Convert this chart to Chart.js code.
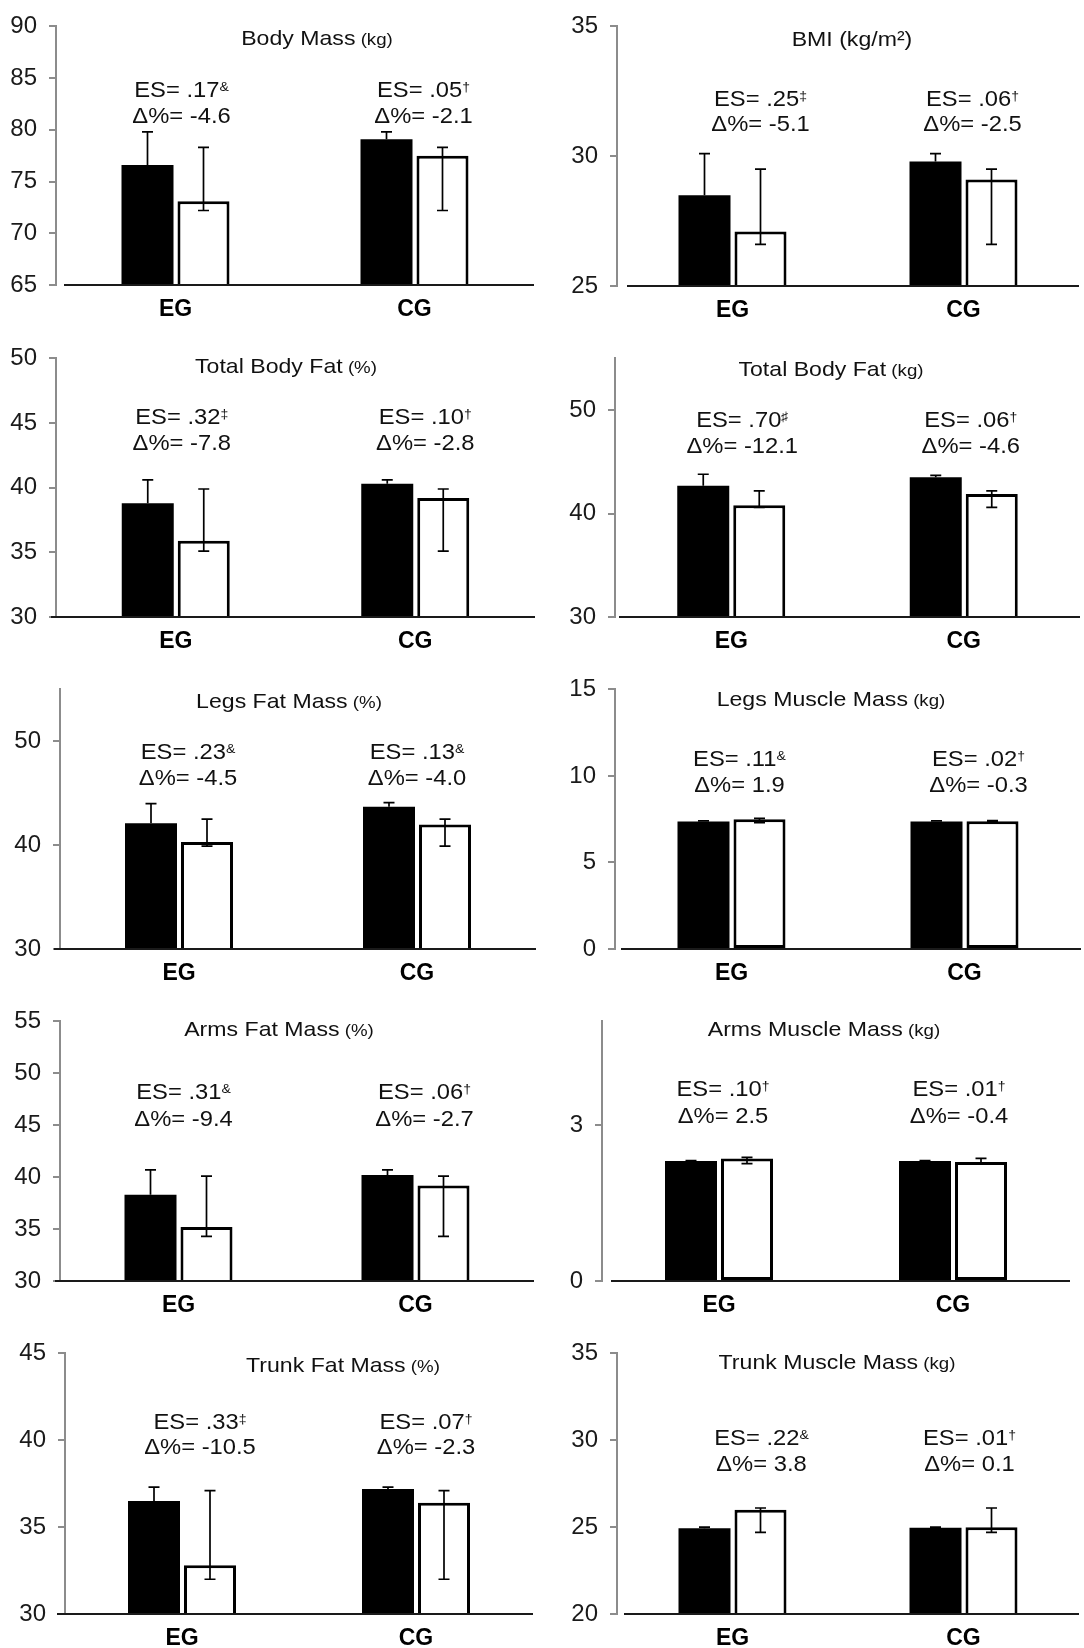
<!DOCTYPE html>
<html>
<head>
<meta charset="utf-8">
<script src="https://cdn.jsdelivr.net/npm/chart.js@4.4.1/dist/chart.umd.min.js"></script>
<style>
  html, body { margin: 0; padding: 0; background: #fff; }
  #page { position: relative; width: 1084px; height: 1648px; overflow: hidden; }
  #page canvas { position: absolute; }
</style>
</head>
<body>
<div id="page"></div>
<script>
// ---- data ----
const groups = ['EG', 'CG'];

const titles = ['Body Mass', 'BMI (kg/m\u00b2)', 'Total Body Fat', 'Total Body Fat', 'Legs Fat Mass',
                'Legs Muscle Mass', 'Arms Fat Mass', 'Arms Muscle Mass', 'Trunk Fat Mass', 'Trunk Muscle Mass'];
const units = [' (kg)', '', ' (%)', ' (kg)', ' (%)', ' (kg)', ' (%)', ' (kg)', ' (%)', ' (kg)'];

// pre (black) and post (white) means, [EG, CG]
const preMeans = [[76.6, 79.1], [28.5, 29.8], [38.8, 40.3], [42.7, 43.5], [42.1, 43.7],
                  [7.36, 7.36], [38.3, 40.2], [2.31, 2.31], [36.5, 37.2], [24.94, 24.96]];
const postMeans = [[73.1, 77.5], [27.1, 29.1], [35.9, 39.2], [40.8, 41.9], [40.3, 42.0],
                   [7.50, 7.38], [35.2, 39.2], [2.36, 2.29], [32.8, 36.4], [26.0, 25.0]];

// error bar ends
const preUpper = [[79.8, 79.8], [30.1, 30.1], [40.6, 40.6], [43.8, 43.7], [44.0, 44.1],
                  [7.40, 7.40], [40.7, 40.7], [2.32, 2.32], [37.3, 37.3], [25.0, 25.0]];
const postUpper = [[78.3, 78.3], [29.5, 29.5], [39.9, 39.9], [42.2, 42.2], [42.5, 42.5],
                   [7.55, 7.42], [40.1, 40.1], [2.38, 2.36], [37.1, 37.1], [26.1, 26.1]];
const postLower = [[72.2, 72.2], [26.6, 26.6], [35.1, 35.1], [40.6, 40.6], [39.9, 39.9],
                   [7.30, 7.34], [34.3, 34.3], [2.26, 2.27], [32.0, 32.0], [24.7, 24.7]];

// effect sizes, their significance marks and percent changes, [EG, CG]
const esValues = [[0.17, 0.05], [0.25, 0.06], [0.32, 0.10], [0.70, 0.06], [0.23, 0.13],
                  [0.11, 0.02], [0.31, 0.06], [0.10, 0.01], [0.33, 0.07], [0.22, 0.01]];
const esMarks = [['&', '\u2020'], ['\u2021', '\u2020'], ['\u2021', '\u2020'], ['\u266f', '\u2020'], ['&', '&'],
                 ['&', '\u2020'], ['&', '\u2020'], ['\u2020', '\u2020'], ['\u2021', '\u2020'], ['&', '\u2020']];
const deltaPct = [[-4.6, -2.1], [-5.1, -2.5], [-7.8, -2.8], [-12.1, -4.6], [-4.5, -4.0],
                  [1.9, -0.3], [-9.4, -2.7], [2.5, -0.4], [-10.5, -2.3], [3.8, 0.1]];

// y axes
const yMin = [65, 25, 30, 30, 30, 0, 30, 0, 30, 20];
const yMax = [90, 35, 50, 55, 55, 15, 55, 5, 45, 35];
const yTicks = [[65, 70, 75, 80, 85, 90], [25, 30, 35], [30, 35, 40, 45, 50], [30, 40, 50], [30, 40, 50],
                [0, 5, 10, 15], [30, 35, 40, 45, 50, 55], [0, 3], [30, 35, 40, 45], [20, 25, 30, 35]];

// ---- page layout (page pixels) ----
const canvasTops = [0, 332, 663, 995, 1327];
const canvasW = 542, canvasH = 321;
// plot box, x-axis line start, title centre, annotation offsets
const boxes = [
  { l: 56,  r: 534,  t: 21,   b: 285,  line: 8,  tx: 317, ty: 11, dx: [6, 9],   esY: 63, dY: 89 },
  { l: 617, r: 1079, t: 20,   b: 286,  line: 10, tx: 852, ty: 12, dx: [28, 9],  esY: 72, dY: 97 },
  { l: 56,  r: 535,  t: 353,  b: 617,  line: -5, tx: 286, ty: 7,  dx: [6, 10],  esY: 58, dY: 84 },
  { l: 615, r: 1080, t: 352,  b: 617,  line: 4,  tx: 831, ty: 10, dx: [11, 7],  esY: 61, dY: 87 },
  { l: 60,  r: 536,  t: 684,  b: 949,  line: -6, tx: 289, ty: 11, dx: [9, 0],   esY: 62, dY: 88 },
  { l: 615, r: 1081, t: 684,  b: 949,  line: 6,  tx: 831, ty: 9,  dx: [8, 14],  esY: 69, dY: 95 },
  { l: 60,  r: 534,  t: 1017, b: 1281, line: -5, tx: 279, ty: 7,  dx: [5, 9],   esY: 70, dY: 97 },
  { l: 602, r: 1070, t: 1016, b: 1281, line: 9,  tx: 824, ty: 7,  dx: [4, 6],   esY: 67, dY: 94 },
  { l: 65,  r: 533,  t: 1349, b: 1614, line: -8, tx: 343, ty: 11, dx: [18, 10], esY: 68, dY: 93 },
  { l: 617, r: 1079, t: 1349, b: 1614, line: 7,  tx: 837, ty: 8,  dx: [29, 6],  esY: 84, dY: 110 }
];

const FONT = "'Liberation Sans', Arial, Helvetica, sans-serif";

function drawParts(ctx, parts, cx, cy, stretch) {
  let w = 0;
  parts.forEach(pt => {
    ctx.font = pt.font;
    pt.w = ctx.measureText(pt.text).width;
    w += pt.w;
  });
  ctx.save();
  ctx.translate(cx, cy);
  ctx.scale(stretch, 1);
  ctx.textAlign = 'left';
  ctx.textBaseline = 'alphabetic';
  ctx.fillStyle = '#111';
  let x = -w / 2;
  parts.forEach(pt => {
    ctx.font = pt.font;
    ctx.fillText(pt.text, x, pt.base);
    x += pt.w;
  });
  ctx.restore();
}

function whisker(ctx, x, yFrom, yTo, capFrom) {
  const cap = 5.5;
  ctx.beginPath();
  ctx.moveTo(x, yFrom);
  ctx.lineTo(x, yTo);
  ctx.moveTo(x - cap, yTo);
  ctx.lineTo(x + cap, yTo);
  if (capFrom) {
    ctx.moveTo(x - cap, yFrom);
    ctx.lineTo(x + cap, yFrom);
  }
  ctx.stroke();
}

const overlay = {
  id: 'overlay',
  afterDatasetsDraw(chart, args, opts) {
    const p = opts.panel;
    const box = boxes[p];
    const col = p % 2;
    const ctx = chart.ctx;
    const area = chart.chartArea;
    const xs = chart.scales.x;
    const ys = chart.scales.y;
    const pre = chart.getDatasetMeta(0).data;
    const post = chart.getDatasetMeta(1).data;

    ctx.save();
    // x axis line
    ctx.strokeStyle = '#1a1a1a';
    ctx.lineWidth = 2;
    ctx.beginPath();
    ctx.moveTo(area.left + box.line, area.bottom);
    ctx.lineTo(area.right, area.bottom);
    ctx.stroke();

    // error bars
    ctx.strokeStyle = '#000';
    ctx.lineWidth = 1.7;
    groups.forEach((g, k) => {
      whisker(ctx, pre[k].x, ys.getPixelForValue(preMeans[p][k]), ys.getPixelForValue(preUpper[p][k]), false);
      whisker(ctx, post[k].x, ys.getPixelForValue(postLower[p][k]), ys.getPixelForValue(postUpper[p][k]), true);
    });

    // title
    const tSize = 21, uSize = 17;
    drawParts(ctx, [
      { text: titles[p], font: tSize + 'px ' + FONT, base: 0.36 * tSize },
      { text: units[p], font: uSize + 'px ' + FONT, base: 0.36 * tSize }
    ], box.tx - col * canvasW, area.top + box.ty, 1.1);

    // ES and delta% annotations
    const aSize = 22, sSize = 13;
    const base = 0.36 * aSize;
    groups.forEach((g, k) => {
      const cx = xs.getPixelForValue(k) + box.dx[k];
      const es = esValues[p][k].toFixed(2).replace(/^0/, '');
      drawParts(ctx, [
        { text: 'ES= ' + es, font: aSize + 'px ' + FONT, base: base },
        { text: esMarks[p][k], font: sSize + 'px ' + FONT, base: base - 0.72 * aSize + 0.72 * sSize }
      ], cx, area.top + box.esY, 1.08);
      drawParts(ctx, [
        { text: '\u0394%= ' + deltaPct[p][k].toFixed(1), font: aSize + 'px ' + FONT, base: base }
      ], cx, area.top + box.dY, 1.08);
    });
    ctx.restore();
  }
};

const page = document.getElementById('page');

boxes.forEach((box, p) => {
  const col = p % 2;
  const row = Math.floor(p / 2);
  const left0 = col * canvasW;
  const top0 = canvasTops[row];
  const canvas = document.createElement('canvas');
  canvas.width = canvasW;
  canvas.height = canvasH;
  canvas.style.left = left0 + 'px';
  canvas.style.top = top0 + 'px';
  page.appendChild(canvas);

  const padTop = box.t - top0;
  const plotH = box.b - box.t;
  const yWidth = box.l - left0;
  const padRight = left0 + canvasW - box.r;
  const cat = (box.r - box.l) / 2;

  new Chart(canvas.getContext('2d'), {
    type: 'bar',
    data: {
      labels: groups,
      datasets: [
        {
          label: 'Pre',
          data: preMeans[p],
          backgroundColor: '#000',
          borderWidth: 0
        },
        {
          label: 'Post',
          data: postMeans[p],
          backgroundColor: '#fff',
          borderColor: '#000',
          borderWidth: 3,
          borderSkipped: false
        }
      ]
    },
    options: {
      responsive: false,
      animation: false,
      events: [],
      categoryPercentage: 112 / cat,
      barPercentage: 52 / 56,
      layout: { padding: { top: padTop, right: padRight, left: 0, bottom: 0 } },
      plugins: {
        legend: { display: false },
        tooltip: { enabled: false },
        overlay: { panel: p }
      },
      scales: {
        x: {
          grid: { display: false },
          border: { display: false },
          ticks: {
            color: '#000',
            padding: 3,
            font: { family: FONT, size: 23, weight: 'bold' }
          },
          afterFit: scale => { scale.height = canvasH - padTop - plotH; }
        },
        y: {
          min: yMin[p],
          max: yMax[p],
          grid: {
            drawOnChartArea: false,
            drawTicks: true,
            tickLength: 7,
            color: '#8c8c8c',
            lineWidth: 2
          },
          border: { display: true, color: '#8c8c8c', width: 2 },
          ticks: {
            color: '#1a1a1a',
            padding: 12,
            font: { family: FONT, size: 24 },
            callback: v => String(v)
          },
          afterBuildTicks: scale => { scale.ticks = yTicks[p].map(v => ({ value: v })); },
          afterFit: scale => { scale.width = yWidth; }
        }
      }
    },
    plugins: [overlay]
  });
});
</script>
</body>
</html>
